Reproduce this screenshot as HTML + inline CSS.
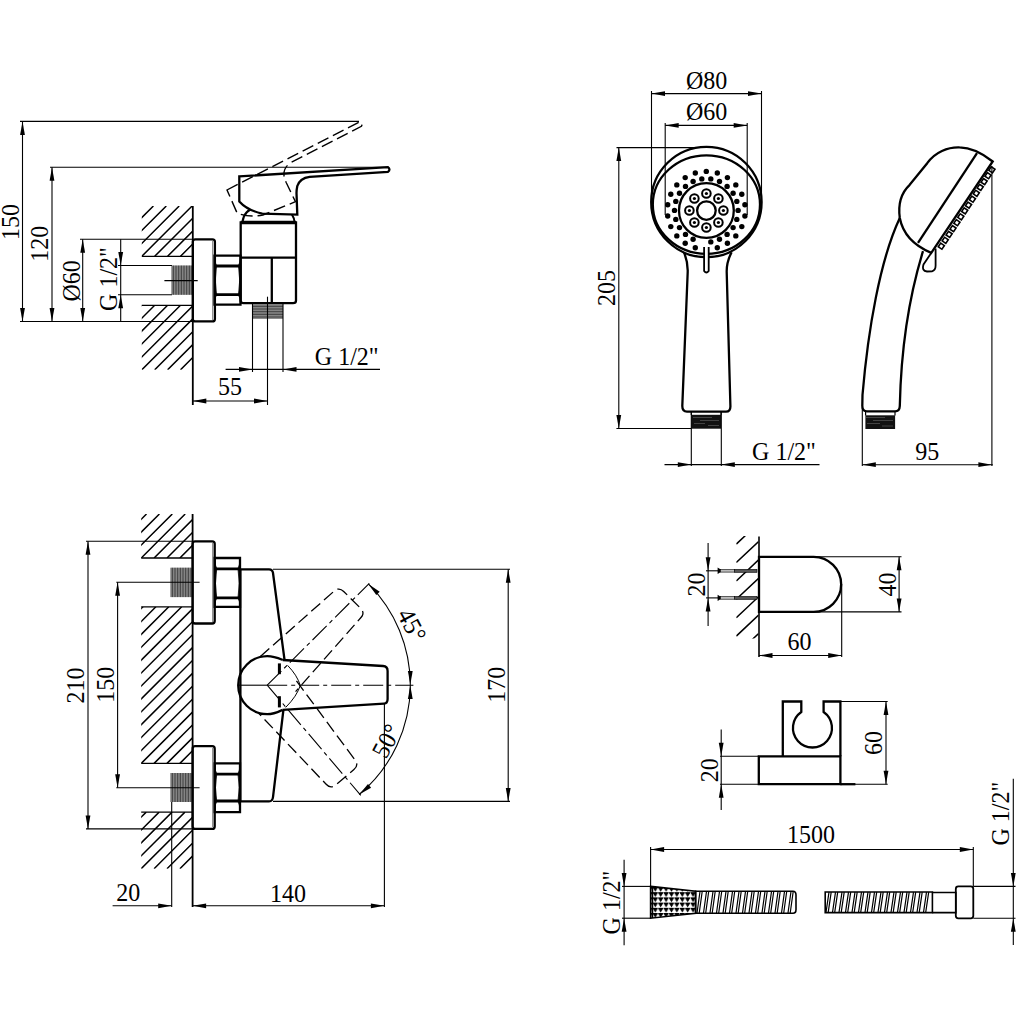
<!DOCTYPE html>
<html><head><meta charset="utf-8"><style>
html,body{margin:0;padding:0;background:#fff;width:1024px;height:1024px;overflow:hidden}
svg{display:block}
text{font-family:"Liberation Serif",serif;fill:#000;stroke:none}
</style></head><body>
<svg width="1024" height="1024" viewBox="0 0 1024 1024" fill="none" stroke="#000" stroke-linecap="butt">
<defs><clipPath id="h1"><rect x="141.8" y="206" width="51.0" height="50.30000000000001"/></clipPath><clipPath id="h2"><rect x="141.8" y="305.3" width="51.0" height="64.5"/></clipPath><clipPath id="h3"><rect x="141.2" y="514" width="51.400000000000006" height="44"/></clipPath><clipPath id="h4"><rect x="141.2" y="606.8" width="51.400000000000006" height="156.60000000000002"/></clipPath><clipPath id="h5"><rect x="141.2" y="812.1" width="51.400000000000006" height="56.60000000000002"/></clipPath><clipPath id="hh"><rect x="736.3" y="536" width="22.3" height="102.5"/></clipPath><pattern id="tri" x="653" y="887" width="5.4" height="5.2" patternUnits="userSpaceOnUse"><path d="M0.3,0.6 H4.3 L2.3,3.8 Z" fill="#000"/></pattern></defs>
<rect x="0" y="0" width="1024" height="1024" fill="#fff" stroke="none"/>
<line x1="20.0" y1="121.4" x2="359.0" y2="121.4" stroke-width="1.1" />
<line x1="50.0" y1="167.3" x2="388.0" y2="167.3" stroke-width="1.1" />
<line x1="80.0" y1="239.3" x2="193.0" y2="239.3" stroke-width="1.1" />
<line x1="20.0" y1="321.5" x2="193.0" y2="321.5" stroke-width="1.1" />
<line x1="118.0" y1="265.5" x2="172.0" y2="265.5" stroke-width="1.1" />
<line x1="118.0" y1="294.8" x2="172.0" y2="294.8" stroke-width="1.1" />
<line x1="22.5" y1="121.4" x2="22.5" y2="321.5" stroke-width="1.1" />
<path d="M22.5,121.4L24.9,134.9L20.1,134.9Z" fill="#000" stroke="none"/>
<path d="M22.5,321.5L20.1,308.0L24.9,308.0Z" fill="#000" stroke="none"/>
<line x1="52.0" y1="167.3" x2="52.0" y2="321.5" stroke-width="1.1" />
<path d="M52.0,167.3L54.4,180.8L49.6,180.8Z" fill="#000" stroke="none"/>
<path d="M52.0,321.5L49.6,308.0L54.4,308.0Z" fill="#000" stroke="none"/>
<line x1="82.7" y1="239.3" x2="82.7" y2="321.5" stroke-width="1.1" />
<path d="M82.7,239.3L85.1,252.8L80.3,252.8Z" fill="#000" stroke="none"/>
<path d="M82.7,321.5L80.3,308.0L85.1,308.0Z" fill="#000" stroke="none"/>
<line x1="120.7" y1="239.3" x2="120.7" y2="321.5" stroke-width="1.1" />
<path d="M120.7,265.5L118.3,252.0L123.1,252.0Z" fill="#000" stroke="none"/>
<path d="M120.7,294.8L123.1,308.3L118.3,308.3Z" fill="#000" stroke="none"/>
<text x="0" y="0" font-size="24" text-anchor="middle" transform="translate(19.3 222.0) rotate(-90) scale(1 1.06)">150</text>
<text x="0" y="0" font-size="24" text-anchor="middle" transform="translate(48.0 243.7) rotate(-90) scale(1 1.06)">120</text>
<text x="0" y="0" font-size="24" text-anchor="middle" transform="translate(79.5 280.8) rotate(-90) scale(1 1.06)">Ø60</text>
<text x="0" y="0" font-size="24" text-anchor="middle" transform="translate(117.0 279.0) rotate(-90) scale(1 1.06)">G 1/2&quot;</text>
<path d="M77.3,256.3L127.6,206.0M90.2,256.3L140.5,206.0M103.1,256.3L153.4,206.0M116.0,256.3L166.3,206.0M128.9,256.3L179.2,206.0M141.8,256.3L192.1,206.0M154.7,256.3L205.0,206.0M167.6,256.3L217.9,206.0M180.5,256.3L230.8,206.0M193.4,256.3L243.7,206.0" stroke-width="1.5" clip-path="url(#h1)"/>
<path d="M51.5,369.8L116.0,305.3M64.4,369.8L128.9,305.3M77.3,369.8L141.8,305.3M90.2,369.8L154.7,305.3M103.1,369.8L167.6,305.3M116.0,369.8L180.5,305.3M128.9,369.8L193.4,305.3M141.8,369.8L206.3,305.3M154.7,369.8L219.2,305.3M167.6,369.8L232.1,305.3M180.5,369.8L245.0,305.3M193.4,369.8L257.9,305.3" stroke-width="1.5" clip-path="url(#h2)"/>
<line x1="141.8" y1="256.3" x2="192.8" y2="256.3" stroke-width="1.3" />
<line x1="141.8" y1="305.3" x2="192.8" y2="305.3" stroke-width="1.3" />
<line x1="192.8" y1="206.0" x2="192.8" y2="405.0" stroke-width="1.8" />
<rect x="172" y="265.5" width="20.0" height="29.3" fill="#b0b0b0" stroke="none"/>
<path d="M172.0,265.5V294.8M173.6,265.5V294.8M175.2,265.5V294.8M176.8,265.5V294.8M178.4,265.5V294.8M180.0,265.5V294.8M181.6,265.5V294.8M183.2,265.5V294.8M184.8,265.5V294.8M186.4,265.5V294.8M188.0,265.5V294.8M189.6,265.5V294.8M191.2,265.5V294.8" stroke-width="0.9" stroke="#333"/>
<line x1="164.4" y1="280.6" x2="197.7" y2="280.6" stroke-width="1.1" />
<rect x="192.8" y="239.3" width="22.1" height="82.1" rx="2.5" stroke-width="2.3"/>
<line x1="212.6" y1="241.0" x2="212.6" y2="320.0" stroke-width="1" stroke="#888"/>
<path d="M214.5,255.6H240.5V304.6H214.5Z" stroke-width="2.3"/>
<path d="M214.5,266H240.5M214.5,294.6H240.5" stroke-width="2.8"/>
<path d="M214.5,266H216.5Q214.1,280.3 216.5,294.6H214.5ZM240.5,266H238.5Q240.9,280.3 238.5,294.6H240.5ZM214.5,256.6Q214.7,263 216.7,266H214.5ZM240.5,256.6Q240.3,263 238.3,266H240.5ZM214.5,303.6Q214.7,297.6 216.7,294.6H214.5ZM240.5,303.6Q240.3,297.6 238.3,294.6H240.5Z" fill="#000" stroke-width="0.8"/>
<path d="M240.7,222.5H296V300.5Q296,303.2 293,303.2H243.5Q240.7,303.2 240.7,300.5Z" stroke-width="2.3" />
<line x1="240.7" y1="222.5" x2="296.0" y2="222.5" stroke-width="3.6" />
<line x1="240.7" y1="257.6" x2="296.0" y2="257.6" stroke-width="2.3" />
<line x1="271.8" y1="257.6" x2="271.8" y2="303.2" stroke-width="2.3" />
<rect x="252.5" y="305" width="30.5" height="14.0" fill="#b0b0b0" stroke="none"/>
<path d="M252.5,305.0H283.0M252.5,306.6H283.0M252.5,308.2H283.0M252.5,309.8H283.0M252.5,311.4H283.0M252.5,313.0H283.0M252.5,314.6H283.0M252.5,316.2H283.0M252.5,317.8H283.0" stroke-width="0.9" stroke="#333"/>
<line x1="252.5" y1="303.0" x2="252.5" y2="372.0" stroke-width="1.1" />
<line x1="283.0" y1="303.0" x2="283.0" y2="372.0" stroke-width="1.1" />
<line x1="267.5" y1="296.7" x2="267.5" y2="405.0" stroke-width="1.1" />
<line x1="225.6" y1="369.4" x2="380.0" y2="369.4" stroke-width="1.1" />
<path d="M252.5,369.4L239.0,371.8L239.0,367.0Z" fill="#000" stroke="none"/>
<path d="M283.0,369.4L296.5,367.0L296.5,371.8Z" fill="#000" stroke="none"/>
<text x="0" y="0" font-size="24" text-anchor="middle" transform="translate(346.7 364.8) rotate(0) scale(1 1.06)">G 1/2&quot;</text>
<line x1="192.8" y1="401.0" x2="267.5" y2="401.0" stroke-width="1.1" />
<path d="M192.8,401.0L206.3,398.6L206.3,403.4Z" fill="#000" stroke="none"/>
<path d="M267.5,401.0L254.0,403.4L254.0,398.6Z" fill="#000" stroke="none"/>
<text x="0" y="0" font-size="24" text-anchor="middle" transform="translate(230.0 394.5) rotate(0) scale(1 1.06)">55</text>
<path d="M242.5,222 Q244,206 268,205 Q293,206 294.5,222" stroke-width="2.0" />
<path d="M239.3,176.4 L387.9,167.1 Q391,169.5 387.9,171.9 L309.6,176.8 Q300,178 297.3,186 Q296.5,190 296.5,193 L297.3,214.6 L262.2,213.7 Q247,210 239.3,201.4 Z" stroke-width="2.3" fill="#fff"/>
<path d="M239.3,176.4 L387.9,167.1 Q391,169.5 387.9,171.9 L309.6,176.8 Q300,178 297.3,186 Q296.5,190 296.5,193 L297.3,214.6 L262.2,213.7 Q247,210 239.3,201.4 Z" stroke-width="1.4" stroke-dasharray="12 5" transform="rotate(-23.6 265.6 212.6)"/>
<line x1="651.5" y1="91.0" x2="651.5" y2="200.0" stroke-width="1.1" />
<line x1="761.5" y1="91.0" x2="761.5" y2="200.0" stroke-width="1.1" />
<line x1="651.5" y1="93.6" x2="761.5" y2="93.6" stroke-width="1.1" />
<path d="M651.5,93.6L665.0,91.2L665.0,96.0Z" fill="#000" stroke="none"/>
<path d="M761.5,93.6L748.0,96.0L748.0,91.2Z" fill="#000" stroke="none"/>
<text x="0" y="0" font-size="24" text-anchor="middle" transform="translate(706.6 88.9) rotate(0) scale(1 1.06)">Ø80</text>
<line x1="665.2" y1="125.4" x2="747.2" y2="125.4" stroke-width="1.1" />
<path d="M665.2,125.4L678.7,123.0L678.7,127.8Z" fill="#000" stroke="none"/>
<path d="M747.2,125.4L733.7,127.8L733.7,123.0Z" fill="#000" stroke="none"/>
<text x="0" y="0" font-size="24" text-anchor="middle" transform="translate(706.6 119.6) rotate(0) scale(1 1.06)">Ø60</text>
<line x1="616.5" y1="147.6" x2="700.0" y2="147.6" stroke-width="1.1" />
<line x1="618.8" y1="147.6" x2="618.8" y2="428.5" stroke-width="1.1" />
<path d="M618.8,147.6L621.2,161.1L616.4,161.1Z" fill="#000" stroke="none"/>
<path d="M618.8,428.5L616.4,415.0L621.2,415.0Z" fill="#000" stroke="none"/>
<line x1="616.4" y1="428.5" x2="691.3" y2="428.5" stroke-width="1.1" />
<text x="0" y="0" font-size="24" text-anchor="middle" transform="translate(614.9 288.0) rotate(-90) scale(1 1.06)">205</text>
<path d="M684,252.2 Q688,262 687.7,272 L682.3,406 Q682.3,411.6 687,411.6 L726,411.6 Q730.6,411.6 730.4,406 L726.7,272 Q726.5,262 731.6,252.2" stroke-width="2.3" />
<circle cx="706.4" cy="202.0" r="55.2" stroke-width="2.3" fill="#fff"/>
<ellipse cx="706.4" cy="204.6" rx="53.6" ry="49.3" stroke-width="2.3"/>
<circle cx="706.4" cy="210.5" r="27.4" stroke-width="2.3" fill="none"/>
<line x1="665.2" y1="123.0" x2="665.2" y2="215.0" stroke-width="1.1" />
<line x1="747.2" y1="123.0" x2="747.2" y2="215.0" stroke-width="1.1" />
<circle cx="706.4" cy="210.6" r="9.3" stroke-width="2.3" fill="none"/>
<circle cx="706.4" cy="193.5" r="4.3" stroke-width="2.0" fill="none"/>
<circle cx="706.4" cy="193.5" r="1.6" stroke-width="0" fill="#000"/>
<circle cx="718.4" cy="198.5" r="4.3" stroke-width="2.0" fill="none"/>
<circle cx="718.4" cy="198.5" r="1.6" stroke-width="0" fill="#000"/>
<circle cx="723.4" cy="210.5" r="4.3" stroke-width="2.0" fill="none"/>
<circle cx="723.4" cy="210.5" r="1.6" stroke-width="0" fill="#000"/>
<circle cx="718.4" cy="222.5" r="4.3" stroke-width="2.0" fill="none"/>
<circle cx="718.4" cy="222.5" r="1.6" stroke-width="0" fill="#000"/>
<circle cx="706.4" cy="227.5" r="4.3" stroke-width="2.0" fill="none"/>
<circle cx="706.4" cy="227.5" r="1.6" stroke-width="0" fill="#000"/>
<circle cx="694.4" cy="222.5" r="4.3" stroke-width="2.0" fill="none"/>
<circle cx="694.4" cy="222.5" r="1.6" stroke-width="0" fill="#000"/>
<circle cx="689.4" cy="210.5" r="4.3" stroke-width="2.0" fill="none"/>
<circle cx="689.4" cy="210.5" r="1.6" stroke-width="0" fill="#000"/>
<circle cx="694.4" cy="198.5" r="4.3" stroke-width="2.0" fill="none"/>
<circle cx="694.4" cy="198.5" r="1.6" stroke-width="0" fill="#000"/>
<circle cx="706.3" cy="171.4" r="2.7" stroke-width="0" fill="#000"/>
<circle cx="710.8" cy="178.9" r="2.7" stroke-width="0" fill="#000"/>
<circle cx="717.3" cy="173.0" r="2.7" stroke-width="0" fill="#000"/>
<circle cx="719.5" cy="181.5" r="2.7" stroke-width="0" fill="#000"/>
<circle cx="727.4" cy="177.6" r="2.7" stroke-width="0" fill="#000"/>
<circle cx="727.1" cy="186.4" r="2.7" stroke-width="0" fill="#000"/>
<circle cx="735.8" cy="184.9" r="2.7" stroke-width="0" fill="#000"/>
<circle cx="733.1" cy="193.2" r="2.7" stroke-width="0" fill="#000"/>
<circle cx="741.8" cy="194.2" r="2.7" stroke-width="0" fill="#000"/>
<circle cx="736.8" cy="201.4" r="2.7" stroke-width="0" fill="#000"/>
<circle cx="744.9" cy="204.8" r="2.7" stroke-width="0" fill="#000"/>
<circle cx="738.1" cy="210.4" r="2.7" stroke-width="0" fill="#000"/>
<circle cx="744.9" cy="216.0" r="2.7" stroke-width="0" fill="#000"/>
<circle cx="736.8" cy="219.4" r="2.7" stroke-width="0" fill="#000"/>
<circle cx="741.8" cy="226.6" r="2.7" stroke-width="0" fill="#000"/>
<circle cx="733.1" cy="227.6" r="2.7" stroke-width="0" fill="#000"/>
<circle cx="735.8" cy="235.9" r="2.7" stroke-width="0" fill="#000"/>
<circle cx="727.1" cy="234.4" r="2.7" stroke-width="0" fill="#000"/>
<circle cx="727.4" cy="243.2" r="2.7" stroke-width="0" fill="#000"/>
<circle cx="719.5" cy="239.3" r="2.7" stroke-width="0" fill="#000"/>
<circle cx="717.3" cy="247.8" r="2.7" stroke-width="0" fill="#000"/>
<circle cx="710.8" cy="241.9" r="2.7" stroke-width="0" fill="#000"/>
<circle cx="695.3" cy="247.8" r="2.7" stroke-width="0" fill="#000"/>
<circle cx="693.1" cy="239.3" r="2.7" stroke-width="0" fill="#000"/>
<circle cx="685.2" cy="243.2" r="2.7" stroke-width="0" fill="#000"/>
<circle cx="685.5" cy="234.4" r="2.7" stroke-width="0" fill="#000"/>
<circle cx="676.8" cy="235.9" r="2.7" stroke-width="0" fill="#000"/>
<circle cx="679.5" cy="227.6" r="2.7" stroke-width="0" fill="#000"/>
<circle cx="670.8" cy="226.6" r="2.7" stroke-width="0" fill="#000"/>
<circle cx="675.8" cy="219.4" r="2.7" stroke-width="0" fill="#000"/>
<circle cx="667.7" cy="216.0" r="2.7" stroke-width="0" fill="#000"/>
<circle cx="674.5" cy="210.4" r="2.7" stroke-width="0" fill="#000"/>
<circle cx="667.7" cy="204.8" r="2.7" stroke-width="0" fill="#000"/>
<circle cx="675.8" cy="201.4" r="2.7" stroke-width="0" fill="#000"/>
<circle cx="670.8" cy="194.2" r="2.7" stroke-width="0" fill="#000"/>
<circle cx="679.5" cy="193.2" r="2.7" stroke-width="0" fill="#000"/>
<circle cx="676.8" cy="184.9" r="2.7" stroke-width="0" fill="#000"/>
<circle cx="685.5" cy="186.4" r="2.7" stroke-width="0" fill="#000"/>
<circle cx="685.2" cy="177.6" r="2.7" stroke-width="0" fill="#000"/>
<circle cx="693.1" cy="181.5" r="2.7" stroke-width="0" fill="#000"/>
<circle cx="695.3" cy="173.0" r="2.7" stroke-width="0" fill="#000"/>
<circle cx="701.8" cy="178.9" r="2.7" stroke-width="0" fill="#000"/>
<path d="M704.1,247 V271 Q706.4,274 708.7,271 V247" stroke-width="1.8" fill="#fff"/>
<rect x="691.3" y="414.8" width="29.7" height="13.9" fill="#111" stroke="none"/>
<line x1="691.3" y1="411.0" x2="691.3" y2="415.0" stroke-width="1.2" />
<line x1="721.0" y1="411.0" x2="721.0" y2="415.0" stroke-width="1.2" />
<path d="M693,417.5H712M700,420.5H719M694,423.5H705M708,425.5H719" stroke="#666" stroke-width="0.6"/>
<line x1="691.3" y1="412.0" x2="691.3" y2="466.0" stroke-width="1.1" />
<line x1="721.3" y1="412.0" x2="721.3" y2="466.0" stroke-width="1.1" />
<line x1="664.5" y1="464.6" x2="819.5" y2="464.6" stroke-width="1.1" />
<path d="M691.3,464.6L677.8,467.0L677.8,462.2Z" fill="#000" stroke="none"/>
<path d="M721.3,464.6L734.8,462.2L734.8,467.0Z" fill="#000" stroke="none"/>
<text x="0" y="0" font-size="24" text-anchor="middle" transform="translate(784.0 459.7) rotate(0) scale(1 1.06)">G 1/2&quot;</text>
<path d="M899.8,218 C898,205 901,193 909.7,184.8 L927.2,163.2 C935,152 948,147 959.5,147.4 C970,147.5 982,153 992.7,161.5 L931.3,252.9 C915,246 903,235 899.8,218 Z" stroke-width="2.3" />
<line x1="977.0" y1="153.2" x2="918.0" y2="242.9" stroke-width="2.3" />
<rect x="989.7" y="167.6" width="4.4" height="4.4" transform="rotate(-56 991.9 169.8)" stroke-width="1.6"/>
<rect x="985.8" y="173.5" width="4.4" height="4.4" transform="rotate(-56 988.0 175.7)" stroke-width="1.6"/>
<rect x="981.9" y="179.4" width="4.4" height="4.4" transform="rotate(-56 984.1 181.6)" stroke-width="1.6"/>
<rect x="978.0" y="185.2" width="4.4" height="4.4" transform="rotate(-56 980.2 187.4)" stroke-width="1.6"/>
<rect x="974.1" y="191.1" width="4.4" height="4.4" transform="rotate(-56 976.3 193.3)" stroke-width="1.6"/>
<rect x="970.2" y="197.0" width="4.4" height="4.4" transform="rotate(-56 972.4 199.2)" stroke-width="1.6"/>
<rect x="966.3" y="202.9" width="4.4" height="4.4" transform="rotate(-56 968.5 205.1)" stroke-width="1.6"/>
<rect x="962.5" y="208.7" width="4.4" height="4.4" transform="rotate(-56 964.7 210.9)" stroke-width="1.6"/>
<rect x="958.6" y="214.6" width="4.4" height="4.4" transform="rotate(-56 960.8 216.8)" stroke-width="1.6"/>
<rect x="954.7" y="220.5" width="4.4" height="4.4" transform="rotate(-56 956.9 222.7)" stroke-width="1.6"/>
<rect x="950.8" y="226.4" width="4.4" height="4.4" transform="rotate(-56 953.0 228.6)" stroke-width="1.6"/>
<rect x="946.9" y="232.2" width="4.4" height="4.4" transform="rotate(-56 949.1 234.4)" stroke-width="1.6"/>
<rect x="943.0" y="238.1" width="4.4" height="4.4" transform="rotate(-56 945.2 240.3)" stroke-width="1.6"/>
<rect x="939.1" y="244.0" width="4.4" height="4.4" transform="rotate(-56 941.3 246.2)" stroke-width="1.6"/>
<path d="M931.3,252.9 L923.5,264.5 Q921.5,271 927,271.5 L932,271.3 Q935.8,270.5 935.6,265 L935.6,248.5" stroke-width="1.8" />
<path d="M899.8,218 C880,260 868,330 862.5,395 L862.3,406 Q862.5,411.4 867,411.4 L895,411.4 Q899.6,411.4 899.8,406 C901,350 908,300 923,251.2" stroke-width="2.3" />
<rect x="865.4" y="415.3" width="29.7" height="13.7" fill="#111" stroke="none"/>
<line x1="865.6" y1="411.0" x2="865.6" y2="415.5" stroke-width="1.2" />
<line x1="895.0" y1="411.0" x2="895.0" y2="415.5" stroke-width="1.2" />
<path d="M866,417.5H885M873,420.5H893M867,423.5H880M882,426H893" stroke="#666" stroke-width="0.6"/>
<line x1="991.9" y1="166.0" x2="991.9" y2="466.0" stroke-width="1.1" />
<line x1="862.3" y1="407.0" x2="862.3" y2="466.0" stroke-width="1.1" />
<line x1="862.3" y1="464.7" x2="992.8" y2="464.7" stroke-width="1.1" />
<path d="M862.3,464.7L875.8,462.3L875.8,467.1Z" fill="#000" stroke="none"/>
<path d="M991.9,464.7L978.4,467.1L978.4,462.3Z" fill="#000" stroke="none"/>
<text x="0" y="0" font-size="24" text-anchor="middle" transform="translate(927.3 459.8) rotate(0) scale(1 1.06)">95</text>
<path d="M76.7,558.0L120.7,514.0M89.6,558.0L133.6,514.0M102.5,558.0L146.5,514.0M115.4,558.0L159.4,514.0M128.3,558.0L172.3,514.0M141.2,558.0L185.2,514.0M154.1,558.0L198.1,514.0M167.0,558.0L211.0,514.0M179.9,558.0L223.9,514.0M192.8,558.0L236.8,514.0" stroke-width="1.5" clip-path="url(#h3)"/>
<path d="M-39.4,763.4L117.2,606.8M-26.5,763.4L130.1,606.8M-13.6,763.4L143.0,606.8M-0.7,763.4L155.9,606.8M12.2,763.4L168.8,606.8M25.1,763.4L181.7,606.8M38.0,763.4L194.6,606.8M50.9,763.4L207.5,606.8M63.8,763.4L220.4,606.8M76.7,763.4L233.3,606.8M89.6,763.4L246.2,606.8M102.5,763.4L259.1,606.8M115.4,763.4L272.0,606.8M128.3,763.4L284.9,606.8M141.2,763.4L297.8,606.8M154.1,763.4L310.7,606.8M167.0,763.4L323.6,606.8M179.9,763.4L336.5,606.8M192.8,763.4L349.4,606.8" stroke-width="1.5" clip-path="url(#h4)"/>
<path d="M63.8,868.7L120.4,812.1M76.7,868.7L133.3,812.1M89.6,868.7L146.2,812.1M102.5,868.7L159.1,812.1M115.4,868.7L172.0,812.1M128.3,868.7L184.9,812.1M141.2,868.7L197.8,812.1M154.1,868.7L210.7,812.1M167.0,868.7L223.6,812.1M179.9,868.7L236.5,812.1M192.8,868.7L249.4,812.1" stroke-width="1.5" clip-path="url(#h5)"/>
<line x1="141.2" y1="558.0" x2="192.6" y2="558.0" stroke-width="1.3" />
<line x1="141.2" y1="606.8" x2="192.6" y2="606.8" stroke-width="1.3" />
<line x1="141.2" y1="763.4" x2="192.6" y2="763.4" stroke-width="1.3" />
<line x1="141.2" y1="812.1" x2="192.6" y2="812.1" stroke-width="1.3" />
<line x1="192.6" y1="514.0" x2="192.6" y2="907.0" stroke-width="1.8" />
<rect x="171" y="567.7" width="21.6" height="29.4" fill="#b0b0b0" stroke="none"/>
<path d="M171.0,567.7V597.1M172.6,567.7V597.1M174.2,567.7V597.1M175.8,567.7V597.1M177.4,567.7V597.1M179.0,567.7V597.1M180.6,567.7V597.1M182.2,567.7V597.1M183.8,567.7V597.1M185.4,567.7V597.1M187.0,567.7V597.1M188.6,567.7V597.1M190.2,567.7V597.1M191.8,567.7V597.1" stroke-width="0.9" stroke="#333"/>
<rect x="171" y="773" width="21.6" height="29.0" fill="#b0b0b0" stroke="none"/>
<path d="M171.0,773.0V802.0M172.6,773.0V802.0M174.2,773.0V802.0M175.8,773.0V802.0M177.4,773.0V802.0M179.0,773.0V802.0M180.6,773.0V802.0M182.2,773.0V802.0M183.8,773.0V802.0M185.4,773.0V802.0M187.0,773.0V802.0M188.6,773.0V802.0M190.2,773.0V802.0M191.8,773.0V802.0" stroke-width="0.9" stroke="#333"/>
<line x1="116.3" y1="582.3" x2="199.6" y2="582.3" stroke-width="1.1" />
<line x1="116.3" y1="787.7" x2="199.6" y2="787.7" stroke-width="1.1" />
<line x1="86.0" y1="541.3" x2="193.0" y2="541.3" stroke-width="1.1" />
<line x1="86.0" y1="828.9" x2="193.0" y2="828.9" stroke-width="1.1" />
<line x1="88.0" y1="541.3" x2="88.0" y2="828.9" stroke-width="1.1" />
<path d="M88.0,541.3L90.4,554.8L85.6,554.8Z" fill="#000" stroke="none"/>
<path d="M88.0,828.9L85.6,815.4L90.4,815.4Z" fill="#000" stroke="none"/>
<line x1="117.6" y1="582.3" x2="117.6" y2="787.7" stroke-width="1.1" />
<path d="M117.6,582.3L120.0,595.8L115.2,595.8Z" fill="#000" stroke="none"/>
<path d="M117.6,787.7L115.2,774.2L120.0,774.2Z" fill="#000" stroke="none"/>
<text x="0" y="0" font-size="24" text-anchor="middle" transform="translate(83.9 685.4) rotate(-90) scale(1 1.06)">210</text>
<text x="0" y="0" font-size="24" text-anchor="middle" transform="translate(113.7 684.7) rotate(-90) scale(1 1.06)">150</text>
<rect x="192.6" y="541.3" width="22.1" height="82.2" rx="2.5" stroke-width="2.3"/>
<line x1="212.6" y1="543.0" x2="212.6" y2="622.0" stroke-width="1" stroke="#888"/>
<rect x="192.6" y="746.2" width="22.1" height="82.7" rx="2.5" stroke-width="2.3"/>
<line x1="212.6" y1="748.0" x2="212.6" y2="827.0" stroke-width="1" stroke="#888"/>
<path d="M214.7,558H240V606.8H214.7Z" stroke-width="2.3"/>
<path d="M214.7,568.8H240M214.7,597.8H240" stroke-width="2.8"/>
<path d="M214.7,568.8H216.7Q214.29999999999998,583.3 216.7,597.8H214.7ZM240,568.8H238Q240.4,583.3 238,597.8H240ZM214.7,559Q214.89999999999998,565.8 216.89999999999998,568.8H214.7ZM240,559Q239.8,565.8 237.8,568.8H240ZM214.7,605.8Q214.89999999999998,600.8 216.89999999999998,597.8H214.7ZM240,605.8Q239.8,600.8 237.8,597.8H240Z" fill="#000" stroke-width="0.8"/>
<path d="M214.7,763.4H240V812.1H214.7Z" stroke-width="2.3"/>
<path d="M214.7,774.1H240M214.7,801H240" stroke-width="2.8"/>
<path d="M214.7,774.1H216.7Q214.29999999999998,787.55 216.7,801H214.7ZM240,774.1H238Q240.4,787.55 238,801H240ZM214.7,764.4Q214.89999999999998,771.1 216.89999999999998,774.1H214.7ZM240,764.4Q239.8,771.1 237.8,774.1H240ZM214.7,811.1Q214.89999999999998,804 216.89999999999998,801H214.7ZM240,811.1Q239.8,804 237.8,801H240Z" fill="#000" stroke-width="0.8"/>
<path d="M240.4,569.3 H269 Q272.6,569.3 273,573 L284.5,659.6 M283.4,710 L273,797 Q272.6,801.4 269,801.4 H240.4" stroke-width="2.3" />
<line x1="240.4" y1="569.3" x2="240.4" y2="801.4" stroke-width="2.3" />
<line x1="273.0" y1="569.3" x2="510.0" y2="569.3" stroke-width="1.1" />
<line x1="273.0" y1="801.4" x2="510.0" y2="801.4" stroke-width="1.1" />
<line x1="508.2" y1="569.3" x2="508.2" y2="801.4" stroke-width="1.1" />
<path d="M508.2,569.3L510.6,582.8L505.8,582.8Z" fill="#000" stroke="none"/>
<path d="M508.2,801.4L505.8,787.9L510.6,787.9Z" fill="#000" stroke="none"/>
<text x="0" y="0" font-size="24" text-anchor="middle" transform="translate(504.9 684.7) rotate(-90) scale(1 1.06)">170</text>
<line x1="171.7" y1="802.0" x2="171.7" y2="907.0" stroke-width="1.1" />
<line x1="384.4" y1="703.0" x2="384.4" y2="907.0" stroke-width="1.1" />
<line x1="112.6" y1="905.8" x2="171.7" y2="905.8" stroke-width="1.1" />
<path d="M171.7,905.8L158.2,908.2L158.2,903.4Z" fill="#000" stroke="none"/>
<line x1="192.6" y1="905.8" x2="384.4" y2="905.8" stroke-width="1.1" />
<path d="M192.6,905.8L206.1,903.4L206.1,908.2Z" fill="#000" stroke="none"/>
<path d="M384.4,905.8L370.9,908.2L370.9,903.4Z" fill="#000" stroke="none"/>
<text x="0" y="0" font-size="24" text-anchor="middle" transform="translate(128.2 900.9) rotate(0) scale(1 1.06)">20</text>
<text x="0" y="0" font-size="24" text-anchor="middle" transform="translate(288.1 901.9) rotate(0) scale(1 1.06)">140</text>
<path d="M282.7,660 L381,666 Q387.6,666.4 387.6,673 L387.6,697 Q387.6,703.5 381,703.7 L282.7,709.8" stroke-width="1.3" stroke-dasharray="12 5" transform="rotate(-45 267.2 685.2)"/>
<path d="M282.7,660 L381,666 Q387.6,666.4 387.6,673 L387.6,697 Q387.6,703.5 381,703.7 L282.7,709.8" stroke-width="1.3" stroke-dasharray="12 5" transform="rotate(50 267.2 685.2)"/>
<line x1="267.2" y1="685.2" x2="413.4" y2="685.2" stroke-width="1.1" stroke-dasharray="20 4 4 4"/>
<line x1="238.3" y1="685.2" x2="267.2" y2="685.2" stroke-width="1.1" />
<line x1="267.2" y1="685.2" x2="369.3" y2="583.3" stroke-width="1.1" stroke-dasharray="20 4 4 4"/>
<line x1="267.2" y1="685.2" x2="360.8" y2="795.4" stroke-width="1.1" stroke-dasharray="20 4 4 4"/>
<path d="M368.4,583.9 A143,143 0 0 1 410.3,685.0 A143,143 0 0 1 359.2,794.5" stroke-width="1.1" />
<path d="M368.4,583.9L379.7,591.7L376.3,595.1Z" fill="#000" stroke="none"/>
<path d="M410.3,684.5L407.9,671.0L412.7,671.0Z" fill="#000" stroke="none"/>
<path d="M410.3,685.5L412.7,699.0L407.9,699.0Z" fill="#000" stroke="none"/>
<path d="M359.2,794.5L368.0,784.0L371.1,787.7Z" fill="#000" stroke="none"/>
<text x="0" y="8" font-size="24" text-anchor="middle" transform="translate(411.9 625.2) rotate(62) scale(1 1.06)">45°</text>
<text x="0" y="8" font-size="24" text-anchor="middle" transform="translate(386.5 741.0) rotate(-62) scale(1 1.06)">50°</text>
<path d="M282.7,660 C278,658 274,656.2 267.2,656.2 A29,29 0 0 0 267.2,714.2 C274,714.2 278,712 282.7,709.8" stroke-width="2.3" />
<path d="M282.7,660 L383,666 Q387.6,666.3 387.6,671 L387.6,699 Q387.6,703.4 384,703.6 L282.7,709.8" stroke-width="2.3" />
<path d="M287.6,665.4 Q297,675 300.3,685.4 Q297,696 285.7,707.4" stroke-width="1.0" />
<rect x="277.9" y="663.4" width="3" height="10.8" fill="#000" stroke="none"/>
<rect x="277.9" y="696.2" width="3" height="11.2" fill="#000" stroke="none"/>
<path d="M736.3,525.7L758.6,504.7M736.3,544.1L758.6,523.1M736.3,562.5L758.6,541.5M736.3,580.9L758.6,559.9M736.3,599.3L758.6,578.3M736.3,617.7L758.6,596.7M736.3,636.1L758.6,615.1M736.3,654.5L758.6,633.5" stroke-width="1.5" clip-path="url(#hh)"/>
<line x1="759.0" y1="536.4" x2="759.0" y2="657.0" stroke-width="1.6" />
<path d="M759,556.8 H813.6 A27.5,27.5 0 0 1 813.6,611.9 H759 Z" stroke-width="2.3" fill="#fff"/>
<line x1="813.6" y1="556.8" x2="901.5" y2="556.8" stroke-width="1.1" />
<line x1="813.6" y1="611.9" x2="901.5" y2="611.9" stroke-width="1.1" />
<line x1="899.1" y1="556.8" x2="899.1" y2="611.9" stroke-width="1.1" />
<path d="M899.1,556.8L901.5,570.3L896.7,570.3Z" fill="#000" stroke="none"/>
<path d="M899.1,611.9L896.7,598.4L901.5,598.4Z" fill="#000" stroke="none"/>
<text x="0" y="0" font-size="24" text-anchor="middle" transform="translate(895.6 584.5) rotate(-90) scale(1 1.06)">40</text>
<line x1="841.7" y1="584.0" x2="841.7" y2="657.0" stroke-width="1.1" />
<line x1="759.0" y1="655.5" x2="841.7" y2="655.5" stroke-width="1.1" />
<path d="M759.0,655.5L772.5,653.1L772.5,657.9Z" fill="#000" stroke="none"/>
<path d="M841.7,655.5L828.2,657.9L828.2,653.1Z" fill="#000" stroke="none"/>
<text x="0" y="0" font-size="24" text-anchor="middle" transform="translate(799.5 650.0) rotate(0) scale(1 1.06)">60</text>
<line x1="706.0" y1="570.8" x2="718.0" y2="570.8" stroke-width="1.1" />
<path d="M717.6,567.5999999999999 L720.8,569.5999999999999 V572.0 L717.6,574.0 Z" fill="#000" stroke="none"/>
<rect x="720.5" y="569.5" width="14" height="2.6" fill="#bbb" stroke="#000" stroke-width="0.6"/>
<rect x="734.5" y="569.3" width="22.5" height="3" fill="#555" stroke="#000" stroke-width="0.6"/>
<line x1="706.0" y1="597.9" x2="718.0" y2="597.9" stroke-width="1.1" />
<path d="M717.6,594.6999999999999 L720.8,596.6999999999999 V599.1 L717.6,601.1 Z" fill="#000" stroke="none"/>
<rect x="720.5" y="596.6" width="14" height="2.6" fill="#bbb" stroke="#000" stroke-width="0.6"/>
<rect x="734.5" y="596.4" width="22.5" height="3" fill="#555" stroke="#000" stroke-width="0.6"/>
<line x1="708.1" y1="542.9" x2="708.1" y2="626.0" stroke-width="1.1" />
<path d="M708.1,570.8L705.7,557.3L710.5,557.3Z" fill="#000" stroke="none"/>
<path d="M708.1,597.9L710.5,611.4L705.7,611.4Z" fill="#000" stroke="none"/>
<text x="0" y="0" font-size="24" text-anchor="middle" transform="translate(704.6 584.5) rotate(-90) scale(1 1.06)">20</text>
<path d="M758.8,756.3 H840.4 V784.2 H758.8 Z" stroke-width="2.3" />
<line x1="840.4" y1="784.2" x2="855.4" y2="784.2" stroke-width="2.3" />
<path d="M782.8,756.3 V701.5 H801.3 V712 A19.5,19.5 0 1 0 823.6,712 V701.5 H840.4 V756.3" stroke-width="2.3" />
<line x1="840.4" y1="701.5" x2="887.7" y2="701.5" stroke-width="1.1" />
<line x1="855.0" y1="784.2" x2="887.7" y2="784.2" stroke-width="1.1" />
<line x1="886.0" y1="701.5" x2="886.0" y2="784.2" stroke-width="1.1" />
<path d="M886.0,701.5L888.4,715.0L883.6,715.0Z" fill="#000" stroke="none"/>
<path d="M886.0,784.2L883.6,770.7L888.4,770.7Z" fill="#000" stroke="none"/>
<text x="0" y="0" font-size="24" text-anchor="middle" transform="translate(882.3 742.9) rotate(-90) scale(1 1.06)">60</text>
<line x1="720.0" y1="756.3" x2="758.8" y2="756.3" stroke-width="1.1" />
<line x1="720.0" y1="784.2" x2="758.8" y2="784.2" stroke-width="1.1" />
<line x1="721.2" y1="729.4" x2="721.2" y2="810.0" stroke-width="1.1" />
<path d="M721.2,756.3L718.8,742.8L723.6,742.8Z" fill="#000" stroke="none"/>
<path d="M721.2,784.2L723.6,797.7L718.8,797.7Z" fill="#000" stroke="none"/>
<text x="0" y="0" font-size="24" text-anchor="middle" transform="translate(717.9 770.2) rotate(-90) scale(1 1.06)">20</text>
<line x1="650.6" y1="847.0" x2="650.6" y2="918.2" stroke-width="1.1" />
<line x1="650.6" y1="849.5" x2="973.3" y2="849.5" stroke-width="1.1" />
<path d="M650.6,849.5L664.1,847.1L664.1,851.9Z" fill="#000" stroke="none"/>
<path d="M973.3,849.5L959.8,851.9L959.8,847.1Z" fill="#000" stroke="none"/>
<text x="0" y="0" font-size="24" text-anchor="middle" transform="translate(811.0 843.3) rotate(0) scale(1 1.06)">1500</text>
<line x1="973.3" y1="847.0" x2="973.3" y2="886.4" stroke-width="1.1" />
<path d="M650.6,886.4 L695.6,891.3 V913.3 L650.6,918.2 Z" stroke-width="1.6" fill="url(#tri)"/>
<line x1="652.5" y1="886.6" x2="652.5" y2="918.0" stroke-width="1.5" />
<path d="M695.6,891.3 H793 Q796,891.3 796,895 V909.5 Q796,913.3 793,913.3 H695.6 Z" stroke-width="1.6" />
<path d="M697.0,913 L700.0,891.5M699.2,913 L702.2,891.5M703.5,913 L706.5,891.5M705.7,913 L708.7,891.5M710.0,913 L713.0,891.5M712.2,913 L715.2,891.5M716.5,913 L719.5,891.5M718.7,913 L721.7,891.5M723.0,913 L726.0,891.5M725.2,913 L728.2,891.5M729.5,913 L732.5,891.5M731.7,913 L734.7,891.5M736.0,913 L739.0,891.5M738.2,913 L741.2,891.5M742.5,913 L745.5,891.5M744.7,913 L747.7,891.5M749.0,913 L752.0,891.5M751.2,913 L754.2,891.5M755.5,913 L758.5,891.5M757.7,913 L760.7,891.5M762.0,913 L765.0,891.5M764.2,913 L767.2,891.5M768.5,913 L771.5,891.5M770.7,913 L773.7,891.5M775.0,913 L778.0,891.5M777.2,913 L780.2,891.5M781.5,913 L784.5,891.5M783.7,913 L786.7,891.5M788.0,913 L791.0,891.5M790.2,913 L793.2,891.5" stroke-width="1.2"/>
<path d="M825.2,892 H932.4 V912.6 H825.2 Z" stroke-width="1.6" />
<path d="M826.0,912.4 L829.0,892.2M828.2,912.4 L831.2,892.2M832.5,912.4 L835.5,892.2M834.7,912.4 L837.7,892.2M839.0,912.4 L842.0,892.2M841.2,912.4 L844.2,892.2M845.5,912.4 L848.5,892.2M847.7,912.4 L850.7,892.2M852.0,912.4 L855.0,892.2M854.2,912.4 L857.2,892.2M858.5,912.4 L861.5,892.2M860.7,912.4 L863.7,892.2M865.0,912.4 L868.0,892.2M867.2,912.4 L870.2,892.2M871.5,912.4 L874.5,892.2M873.7,912.4 L876.7,892.2M878.0,912.4 L881.0,892.2M880.2,912.4 L883.2,892.2M884.5,912.4 L887.5,892.2M886.7,912.4 L889.7,892.2M891.0,912.4 L894.0,892.2M893.2,912.4 L896.2,892.2M897.5,912.4 L900.5,892.2M899.7,912.4 L902.7,892.2M904.0,912.4 L907.0,892.2M906.2,912.4 L909.2,892.2M910.5,912.4 L913.5,892.2M912.7,912.4 L915.7,892.2M917.0,912.4 L920.0,892.2M919.2,912.4 L922.2,892.2M923.5,912.4 L926.5,892.2M925.7,912.4 L928.7,892.2" stroke-width="1.2"/>
<path d="M932.4,892.5 H955.8 V912.6 H932.4" stroke-width="1.6" />
<rect x="955.8" y="886.4" width="17.5" height="31.9" rx="2.5" stroke-width="1.8"/>
<line x1="622.0" y1="886.4" x2="650.6" y2="886.4" stroke-width="1.1" />
<line x1="622.0" y1="918.2" x2="650.6" y2="918.2" stroke-width="1.1" />
<line x1="624.1" y1="859.8" x2="624.1" y2="945.2" stroke-width="1.1" />
<path d="M624.1,886.4L621.7,872.9L626.5,872.9Z" fill="#000" stroke="none"/>
<path d="M624.1,918.2L626.5,931.7L621.7,931.7Z" fill="#000" stroke="none"/>
<text x="0" y="0" font-size="24" text-anchor="middle" transform="translate(620.3 902.5) rotate(-90) scale(1 1.06)">G 1/2&quot;</text>
<line x1="973.3" y1="886.4" x2="1015.5" y2="886.4" stroke-width="1.1" />
<line x1="973.3" y1="918.3" x2="1015.5" y2="918.3" stroke-width="1.1" />
<line x1="1013.3" y1="778.8" x2="1013.3" y2="945.0" stroke-width="1.1" />
<path d="M1013.3,886.4L1010.9,872.9L1015.7,872.9Z" fill="#000" stroke="none"/>
<path d="M1013.3,918.3L1015.7,931.8L1010.9,931.8Z" fill="#000" stroke="none"/>
<text x="0" y="0" font-size="24" text-anchor="middle" transform="translate(1008.9 813.7) rotate(-90) scale(1 1.06)">G 1/2&quot;</text>
</svg>
</body></html>
